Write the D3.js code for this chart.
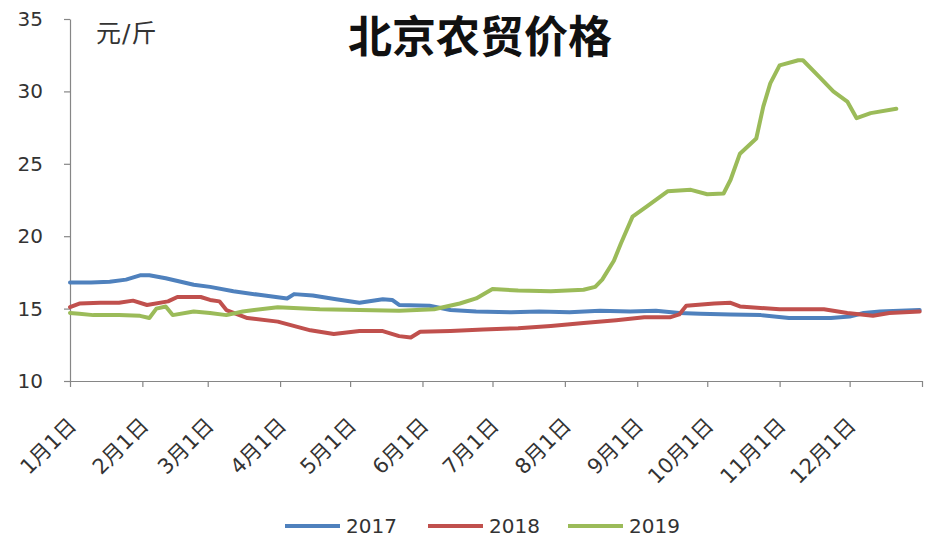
<!DOCTYPE html>
<html>
<head>
<meta charset="utf-8">
<script src="https://cdn.jsdelivr.net/npm/d3@7/dist/d3.min.js"></script>
<style>
  html, body { margin: 0; padding: 0; background: #fff; }
  svg { display: block; }
  text { font-family: "DejaVu Sans", "Noto Sans CJK SC", sans-serif; fill: #333; }
</style>
</head>
<body>
<svg id="chart" width="927" height="538"></svg>
<script>
// Beijing farmers' market price, yuan per jin, three years on a shared Jan–Dec axis.
// Days are offsets from 1 January.
const monthLabels = ["1月1日", "2月1日", "3月1日", "4月1日", "5月1日", "6月1日",
                     "7月1日", "8月1日", "9月1日", "10月1日", "11月1日", "12月1日"];
const yTicks = [10, 15, 20, 25, 30, 35];
const seriesNames = ["2017", "2018", "2019"];
const seriesColors = ["#4F81BD", "#C0504D", "#9BBB59"];

const days2017 = [0, 9, 17, 24, 30, 34, 41, 53, 60, 70, 81, 93, 96, 104, 114, 124, 134, 138, 141,
                  154, 163, 174, 189, 201, 214, 227, 240, 251, 261, 270, 283, 296, 308, 326, 334,
                  340, 347, 364];
const vals2017 = [16.8, 16.8, 16.85, 17.0, 17.3, 17.3, 17.1, 16.65, 16.5, 16.2, 15.95, 15.7, 16.0,
                  15.9, 15.65, 15.4, 15.65, 15.6, 15.25, 15.2, 14.9, 14.8, 14.75, 14.8, 14.75, 14.85,
                  14.8, 14.85, 14.7, 14.65, 14.6, 14.55, 14.35, 14.35, 14.45, 14.7, 14.8, 14.9];

const days2018 = [0, 4, 13, 21, 27, 33, 42, 46, 56, 60, 64, 67, 76, 89, 103, 113, 124, 134, 141,
                  146, 150, 163, 177, 192, 206, 220, 234, 246, 257, 261, 264, 276, 283, 287, 304,
                  323, 333, 344, 351, 364];
const vals2018 = [15.1, 15.35, 15.4, 15.4, 15.55, 15.25, 15.5, 15.8, 15.8, 15.6, 15.5, 14.9, 14.35,
                  14.1, 13.5, 13.25, 13.45, 13.45, 13.1, 13.0, 13.4, 13.45, 13.55, 13.65, 13.8, 14.0,
                  14.2, 14.4, 14.4, 14.6, 15.2, 15.35, 15.4, 15.15, 14.95, 14.95, 14.7, 14.5, 14.7,
                  14.8];

const days2019 = [0, 4, 10, 21, 30, 34, 37, 41, 44, 53, 60, 67, 74, 89, 107, 124, 141, 156, 167,
                  174, 181, 192, 206, 220, 225, 228, 233, 236, 241, 247, 256, 266, 273, 280, 283,
                  287, 294, 297, 300, 304, 312, 314, 321, 327, 333, 337, 343, 354];
const vals2019 = [14.7, 14.65, 14.55, 14.55, 14.5, 14.35, 15.0, 15.15, 14.55, 14.8, 14.7, 14.55,
                  14.8, 15.1, 14.95, 14.9, 14.85, 14.95, 15.35, 15.7, 16.35, 16.25, 16.2, 16.3,
                  16.5, 17.0, 18.3, 19.5, 21.35, 22.05, 23.1, 23.2, 22.9, 22.95, 23.9, 25.7, 26.75,
                  28.95, 30.55, 31.8, 32.15, 32.15, 31.0, 30.0, 29.3, 28.15, 28.5, 28.8];

const seriesDays = [days2017, days2018, days2019];
const seriesVals = [vals2017, vals2018, vals2019];

const svg = d3.select("#chart");
const plotLeft = 70, plotRight = 922, plotTop = 19, plotBottom = 381;

const start = new Date(2017, 0, 1);
const dayToDate = d => d3.timeDay.offset(start, d);

const x = d3.scaleTime()
  .domain([start, new Date(2018, 0, 1)])
  .range([plotLeft, plotRight]);
const y = d3.scaleLinear().domain([10, 35]).range([plotBottom, plotTop]);

// Title and unit
svg.append("text")
  .attr("x", 480).attr("y", 53)
  .attr("text-anchor", "middle")
  .style("font-family", "'Noto Sans CJK SC', sans-serif")
  .style("font-weight", "bold")
  .style("font-size", "44px")
  .style("fill", "#111")
  .text("北京农贸价格");

svg.append("text")
  .attr("x", 96).attr("y", 42)
  .style("font-size", "25px")
  .style("letter-spacing", "1px")
  .text("元/斤");

// Y axis
const yAxis = svg.append("g")
  .attr("transform", `translate(${plotLeft},0)`)
  .call(d3.axisLeft(y).tickValues(yTicks).tickSize(6).tickSizeOuter(0).tickPadding(21));
yAxis.selectAll("text").style("font-size", "20px").style("fill", "#333");

// X axis: tick marks at each month start plus year end
const tickDates = d3.range(0, 13).map(m => new Date(2017, m, 1));
const xAxis = svg.append("g")
  .attr("transform", `translate(0,${plotBottom})`)
  .call(d3.axisBottom(x).tickValues(tickDates).tickSize(6).tickSizeOuter(0)
    .tickFormat((d, i) => monthLabels[i] || ""));
xAxis.selectAll("text")
  .style("font-size", "21px")
  .style("fill", "#333")
  .attr("text-anchor", "end")
  .attr("x", 0).attr("y", 0).attr("dy", 0)
  .attr("transform", "translate(7,46) rotate(-45)");

svg.selectAll(".domain, .tick line").attr("stroke", "#868686").attr("stroke-width", 1.2);

// Series lines
const line = d3.line()
  .x(p => x(dayToDate(p[0])))
  .y(p => y(p[1]))
  .curve(d3.curveLinear);

seriesNames.forEach((name, i) => {
  const pts = seriesDays[i].map((d, k) => [d, seriesVals[i][k]]);
  svg.append("path")
    .datum(pts)
    .attr("fill", "none")
    .attr("stroke", seriesColors[i])
    .attr("stroke-width", 4)
    .attr("stroke-linejoin", "round")
    .attr("stroke-linecap", "round")
    .attr("d", line);
});

// Legend
const legendX = [285, 428, 568];
const legend = svg.append("g");
seriesNames.forEach((name, i) => {
  legend.append("line")
    .attr("x1", legendX[i]).attr("x2", legendX[i] + 55)
    .attr("y1", 526).attr("y2", 526)
    .attr("stroke", seriesColors[i]).attr("stroke-width", 4);
  legend.append("text")
    .attr("x", legendX[i] + 61).attr("y", 533)
    .style("font-size", "20px")
    .text(name);
});
</script>
</body>
</html>
